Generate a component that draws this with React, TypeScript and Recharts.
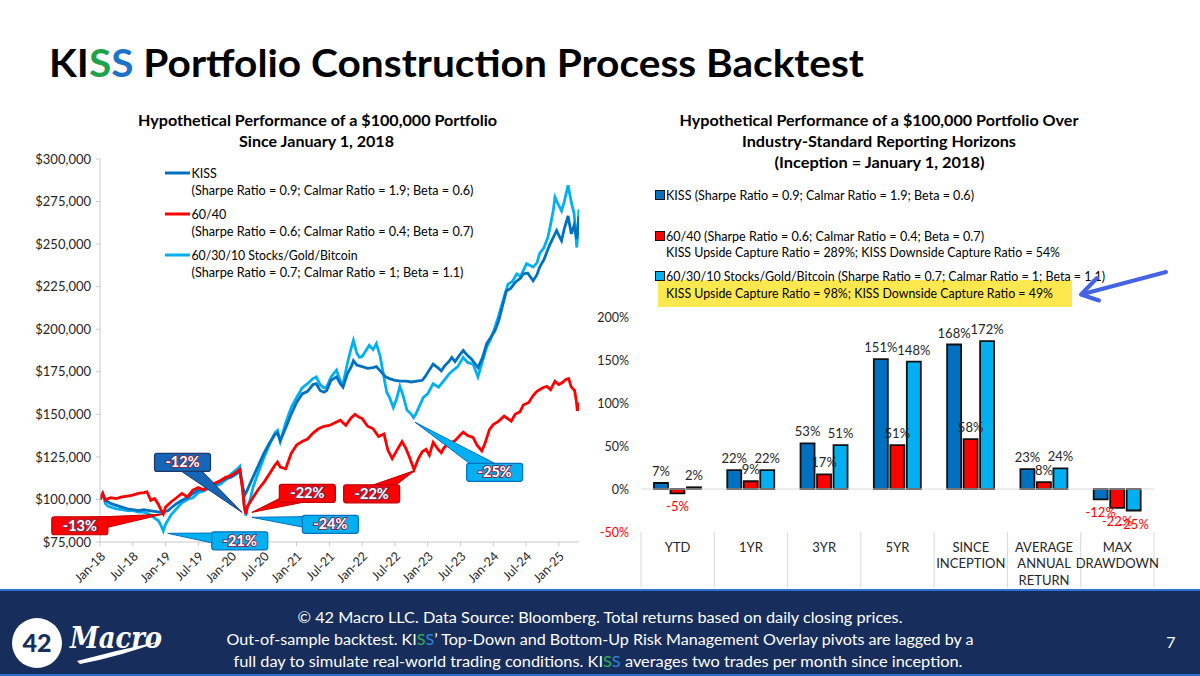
import React from "react";
import {
  LineChart,
  Line,
  XAxis,
  YAxis,
  ReferenceDot,
  ReferenceLine,
  BarChart,
  Bar,
  LabelList,
} from "recharts";

const FONT = "Lato, 'Open Sans', 'DejaVu Sans', sans-serif";
const KISS_BLUE = "#0070c0";
const RED = "#ff0000";
const LIGHT_BLUE = "#00b0f0";
const AXIS_GRAY = "#c8c8c8";
const TEXT = "#262626";

// ---- left chart: portfolio value in $ thousands, x = months since Jan 1, 2018
const dateTicks = [0, 6, 12, 18, 24, 30, 36, 42, 48, 54, 60, 66, 72, 78, 84];
const dateTickLabels = [
  "Jan-18", "Jul-18", "Jan-19", "Jul-19", "Jan-20", "Jul-20", "Jan-21", "Jul-21",
  "Jan-22", "Jul-22", "Jan-23", "Jul-23", "Jan-24", "Jul-24", "Jan-25",
];
const valueTicks = [75, 100, 125, 150, 175, 200, 225, 250, 275, 300];

const kissPoints: [number, number][] = [
  [0, 100], [0.5, 103], [1, 99.5], [1.5, 98.5], [2, 97.5], [3, 96.5], [4, 95.5], [5, 94.5],
  [6, 94], [7, 93.5], [8, 94], [9, 93.5], [10, 93], [11, 92.5], [12, 93], [12.5, 93.5],
  [13, 95], [14, 97.5], [15, 99.5], [16, 101], [17, 103.5], [18, 105.5], [19, 106], [20, 107.5],
  [21, 109], [22, 110.5], [23, 112], [24, 113], [25, 115], [25.6, 116.5], [26.1, 108], [26.5, 102.5],
  [26.9, 105], [27.3, 108], [28, 113], [29, 120], [30, 127], [31, 133], [32, 138], [32.5, 139],
  [33, 134.5], [34, 142], [35, 150], [36, 157], [37, 162], [38, 163.5], [39, 167.5], [39.6, 168],
  [40.3, 164], [41, 163], [41.5, 164], [42.3, 170], [43.3, 172], [44, 168], [44.5, 166], [45.3, 174],
  [46, 178], [46.4, 181.5], [47, 179], [48, 178], [49, 177], [50, 177.5], [50.6, 178], [51.3, 175.5],
  [52.3, 172], [53, 171], [54, 170], [55, 169.5], [56, 169.5], [57, 169], [58, 169.5], [59, 170],
  [59.5, 172], [60.3, 176], [61, 179.5], [62, 177], [62.5, 175.5], [63, 178], [64, 181.5], [64.4, 183.5],
  [65, 181], [66, 185.5], [66.5, 187.5], [67.3, 184.5], [68, 182.5], [69.2, 177.5], [70, 183], [70.8, 191.5],
  [71.5, 195], [72.3, 199], [73, 205], [73.8, 215], [74.4, 222.5], [75.2, 224], [76, 227.5], [77, 230],
  [77.5, 232.5], [78.3, 233], [79.3, 228.5], [80, 232], [80.5, 236.5], [81.3, 241], [82, 247], [82.4, 250],
  [83, 254], [83.6, 258], [84.1, 254.5], [84.5, 252], [85, 259], [85.7, 266.5], [86.3, 256], [86.8, 261],
  [87.3, 253], [87.7, 266.5],
];

const sixtyFortyPoints: [number, number][] = [
  [0, 100], [0.5, 103.5], [1, 99.5], [1.5, 100.5], [2, 101], [3, 100.5], [4, 101.5], [5, 102],
  [6, 102.5], [7, 103.5], [8, 104], [8.6, 104.5], [9.3, 99.5], [10, 100.5], [10.7, 97], [11.3, 93],
  [11.6, 91.5], [12, 95.5], [13, 98.5], [14, 101], [15, 103.5], [16, 101.5], [17, 105.5], [18, 107],
  [19, 105.5], [20, 108], [21, 109.5], [22, 111], [23, 113], [24, 114], [25, 116], [25.6, 117.5],
  [26.1, 106], [26.4, 96], [26.7, 91.5], [27, 96], [27.5, 98.5], [28, 101], [29, 106], [30, 110],
  [31, 115], [32, 120], [32.5, 122], [33, 119], [34, 118], [35, 127], [36, 132], [37, 134],
  [38, 135.5], [39, 139], [40, 141.5], [41, 143], [42, 143.5], [43, 145], [44, 146.5], [45, 143.5],
  [46, 148], [46.7, 150], [47.3, 148.5], [48, 147.5], [49, 143], [50, 141.5], [51, 137], [52, 138.5],
  [52.7, 129], [53.5, 124], [54.3, 128.5], [55.3, 134], [56, 130], [56.7, 124.5], [57.5, 117.5], [58.3, 124],
  [59, 128], [59.7, 129.5], [60.3, 126], [61, 133.5], [62, 129], [62.5, 127.5], [63, 130.5], [64, 133],
  [65, 134.5], [66, 138], [66.5, 139.5], [67.3, 137.5], [68.3, 136.5], [69, 132], [69.9, 128.5], [70.5, 133],
  [71.3, 141], [72, 144], [73, 146], [74, 149], [75.3, 146], [76, 150], [76.9, 151.5], [77.5, 155.5],
  [78.5, 157], [79.3, 161], [80, 163.5], [81, 165.5], [81.8, 166.5], [82.5, 164.5], [83.3, 169.5], [84, 167.5],
  [84.6, 168.5], [85.3, 170.5], [85.8, 171], [86.3, 166], [86.9, 164], [87.2, 158], [87.4, 152], [87.7, 157],
];

const mixPoints: [number, number][] = [
  [0, 100], [0.5, 103.5], [1, 97.5], [1.5, 96], [2, 95.5], [3, 94.5], [4, 94], [5, 93.5],
  [6, 93.5], [7, 92.5], [8, 92.5], [9, 91.5], [10, 89], [10.7, 87.5], [11.2, 84.5], [11.6, 81.5],
  [12, 85.5], [12.5, 88], [13, 91], [14, 94.5], [15, 98], [16, 100], [17, 101], [18, 104],
  [19, 105], [20, 106.5], [21, 108], [22, 109], [23, 111.5], [24, 115], [25, 117.5], [25.6, 119.5],
  [26.1, 107], [26.4, 97], [26.7, 90.5], [27, 95], [27.5, 100], [28, 107], [29, 116], [30, 124.5],
  [31, 132], [32, 139], [32.5, 140.5], [33, 134], [34, 145], [35, 154], [36, 160], [37, 165.5],
  [38, 168], [39, 171], [39.6, 172], [40.3, 167.5], [41, 165.5], [41.5, 166], [42.3, 172], [43.3, 176],
  [44, 169.5], [44.5, 168], [45.3, 180], [46, 189], [46.4, 193.5], [47, 186], [47.5, 183.5], [48, 184],
  [48.6, 187], [49.3, 190.5], [50, 188], [50.6, 191.5], [51.3, 184], [52, 171.5], [52.5, 163], [53, 160],
  [53.7, 154], [54.3, 159], [54.9, 166.5], [55.5, 161], [56.2, 152.5], [57, 150], [57.4, 148], [57.8, 150],
  [58.5, 155], [59.2, 160], [60, 162], [61, 168], [62, 166], [63, 170], [64, 174], [64.7, 176],
  [65.5, 178], [66.5, 183.5], [67.3, 180.5], [68.3, 179.5], [69.2, 172], [70, 181], [70.8, 189.5], [71.5, 194],
  [72.3, 201], [73, 208], [73.8, 217], [74.7, 226.5], [75.5, 228], [76.3, 232.5], [77, 231], [78.1, 238.5],
  [79.3, 236.5], [80, 239], [80.5, 244.5], [81.3, 248], [82, 254], [82.4, 260], [83, 270], [83.3, 277.5],
  [83.8, 274], [84.5, 269.5], [85, 275], [85.7, 284.5], [86.3, 274.5], [86.8, 268], [87.3, 248], [87.7, 270.5],
];

// max drawdown call-outs: where each arrow points (month, $k)
const drawdownLabels = [
  { label: "-13%", series: "6040", m: 11.5, v: 91.3 },
  { label: "-21%", series: "mix", m: 12.4, v: 80.1 },
  { label: "-12%", series: "kiss", m: 26, v: 92.4 },
  { label: "-22%", series: "6040", m: 27.8, v: 92.4 },
  { label: "-24%", series: "mix", m: 27.8, v: 89.5 },
  { label: "-22%", series: "6040", m: 57.7, v: 117.1 },
  { label: "-25%", series: "mix", m: 57.7, v: 145.3 },
];
// box offset from the arrow tip, px
const calloutOffsets: [number, number][] = [
  [-83, 11.5], [72, 7.5], [-59.5, -50], [55.5, -19], [78.5, 7], [-43.5, 23.5], [79.5, 50],
];
const calloutStyle: Record<string, { fill: string; edge: string }> = {
  kiss: { fill: "#1565b8", edge: "#1f3864" },
  "6040": { fill: RED, edge: "#c00000" },
  mix: { fill: LIGHT_BLUE, edge: "#0070c0" },
};

// ---- right chart: returns over reporting horizons (%)
const horizons = ["YTD", "1YR", "3YR", "5YR", "SINCE INCEPTION", "AVERAGE ANNUAL RETURN", "MAX DRAWDOWN"];
const kissReturns = [7, 22, 53, 151, 168, 23, -12];
const sixtyFortyReturns = [-5, 9, 17, 51, 58, 8, -22];
const mixReturns = [2, 22, 51, 148, 172, 24, -25];
const pctTicks = [-50, 0, 50, 100, 150, 200];

const horizonRows = horizons.map((h, i) => ({
  horizon: h,
  kiss: kissReturns[i],
  sixtyForty: sixtyFortyReturns[i],
  mix: mixReturns[i],
}));

const toRows = (pts: [number, number][]) => pts.map(([m, v]) => ({ m, v }));

const BAR_W = 590;
const BAR_PLOT_W = BAR_W - 51 - 26;
const HALF_BAND = BAR_PLOT_W / horizons.length / 2;

const DateTick = (props: any) => {
  const { x, y, payload } = props;
  const i = dateTicks.indexOf(payload.value);
  return (
    <text
      transform={`translate(${x + 3},${y + 6}) rotate(-45)`}
      textAnchor="end"
      dy="0.35em"
      fontSize={12.5}
      fill={TEXT}
      fontFamily={FONT}
    >
      {dateTickLabels[i]}
    </text>
  );
};

const PctTick = (props: any) => {
  const { x, y, payload } = props;
  return (
    <text x={x} y={y} dy={4.5} textAnchor="end" fontSize={12.5} fontFamily={FONT}
      fill={payload.value < 0 ? RED : TEXT}>
      {payload.value}%
    </text>
  );
};

const HorizonTick = (props: any) => {
  const { x, y, payload, index } = props;
  const words = String(payload.value).split(" ");
  return (
    <g>
      <line x1={x - HALF_BAND} x2={x - HALF_BAND} y1={y} y2={y + 56} stroke="#d9d9d9" />
      {index === horizons.length - 1 && (
        <line x1={x + HALF_BAND} x2={x + HALF_BAND} y1={y} y2={y + 56} stroke="#d9d9d9" />
      )}
      <text x={x} y={y + 20} textAnchor="middle" fontSize={13} fill={TEXT} fontFamily={FONT}>
        {words.map((w, i) => (
          <tspan key={i} x={x} dy={i === 0 ? 0 : 16.3}>{w}</tspan>
        ))}
      </text>
    </g>
  );
};

const barLabel = (props: any) => {
  const { x, y, width, height, value } = props;
  const top = Math.min(y, y + height);
  const bottom = Math.max(y, y + height);
  const neg = value < 0;
  return (
    <text x={x + width / 2} y={neg ? bottom + 18 : top - 7} textAnchor="middle" fontSize={13}
      fontFamily={FONT} fill={neg ? RED : TEXT}>
      {value}%
    </text>
  );
};

const Callout = ({ cx, cy, label, series, off }: any) => {
  const { fill, edge } = calloutStyle[series];
  const bx = cx + off[0];
  const by = cy + off[1];
  const w = 56;
  const h = 18;
  const a = Math.atan2(cy - by, cx - bx);
  const px = -Math.sin(a) * 8;
  const py = Math.cos(a) * 8;
  return (
    <g>
      <polygon points={`${bx + px},${by + py} ${cx},${cy} ${bx - px},${by - py}`} fill={fill} stroke={edge} strokeWidth={1} />
      <rect x={bx - w / 2} y={by - h / 2} width={w} height={h} rx={2.5} fill={fill} stroke={edge} strokeWidth={1.2} />
      <text x={bx} y={by + 5} textAnchor="middle" fill="#fff" fontWeight={700} fontSize={14.5}
        fontFamily={FONT} stroke="#7b2f55" strokeWidth={2} paintOrder="stroke">
        {label}
      </text>
    </g>
  );
};

const T = ({ x, y, size = 12.5, weight = 400, anchor = "start", len, fill = "#000", children }: any) => (
  <text x={x} y={y} fontSize={size} fontWeight={weight} textAnchor={anchor} fill={fill}
    fontFamily={FONT} textLength={len} lengthAdjust={len ? "spacingAndGlyphs" : undefined}>
    {children}
  </text>
);

export default function App() {
  return (
    <div style={{ position: "absolute", left: 0, top: 0, width: 1200, height: 676, background: "#fff", overflow: "hidden", fontFamily: FONT }}>
      <div style={{ position: "absolute", left: 0, top: 150 }}>
        <LineChart width={600} height={440} margin={{ top: 9, right: 21, bottom: 0, left: 0 }}>
          <XAxis type="number" dataKey="m" domain={[0, 87.7]} ticks={dateTicks} interval={0}
            tick={<DateTick />} tickSize={4} tickMargin={2} height={48} stroke={AXIS_GRAY} allowDataOverflow />
          <YAxis type="number" domain={[75, 300]} ticks={valueTicks} interval={0}
            tickFormatter={(v: number) => `$${v},000`} width={100} tickSize={4} tickMargin={5}
            stroke={AXIS_GRAY} tick={{ fill: TEXT, fontSize: 13, fontFamily: FONT }} />
          <Line data={toRows(mixPoints)} dataKey="v" stroke={LIGHT_BLUE} strokeWidth={2.8} dot={false} isAnimationActive={false} />
          <Line data={toRows(kissPoints)} dataKey="v" stroke={KISS_BLUE} strokeWidth={2.8} dot={false} isAnimationActive={false} />
          <Line data={toRows(sixtyFortyPoints)} dataKey="v" stroke={RED} strokeWidth={2.8} dot={false} isAnimationActive={false} />
          {drawdownLabels.map((d, i) => (
            <ReferenceDot key={i} x={d.m} y={d.v} r={0} ifOverflow="visible"
              shape={(p: any) => <Callout cx={p.cx} cy={p.cy} label={d.label} series={d.series} off={calloutOffsets[i]} />} />
          ))}
        </LineChart>
      </div>

      <div style={{ position: "absolute", left: 590, top: 300 }}>
        <BarChart width={BAR_W} height={290} data={horizonRows} margin={{ top: 17, right: 26, bottom: 0, left: 0 }}
          barCategoryGap="17.7%" barGap={2.5}>
          <XAxis dataKey="horizon" tick={<HorizonTick />} tickLine={false} axisLine={false} tickSize={0} tickMargin={0} height={58} interval={0} />
          <YAxis domain={[-50, 200]} ticks={pctTicks} interval={0} tick={<PctTick />} width={51}
            tickSize={0} tickMargin={12} axisLine={false} tickLine={false} />
          <ReferenceLine y={0} stroke="#d9d9d9" strokeWidth={1.2} />
          <Bar dataKey="kiss" fill={KISS_BLUE} stroke="#111" strokeWidth={1.8} isAnimationActive={false}>
            <LabelList dataKey="kiss" content={barLabel} />
          </Bar>
          <Bar dataKey="sixtyForty" fill={RED} stroke="#111" strokeWidth={1.8} isAnimationActive={false}>
            <LabelList dataKey="sixtyForty" content={barLabel} />
          </Bar>
          <Bar dataKey="mix" fill={LIGHT_BLUE} stroke="#111" strokeWidth={1.8} isAnimationActive={false}>
            <LabelList dataKey="mix" content={barLabel} />
          </Bar>
        </BarChart>
      </div>

      <svg width={1200} height={676} style={{ position: "absolute", left: 0, top: 0, pointerEvents: "none" }}>
        {/* slide title */}
        <text x={49} y={77} fontSize={38} fontWeight={700} fontFamily={FONT} fill="#000" textLength={815} lengthAdjust="spacingAndGlyphs">
          KI<tspan fill="#1fa34a">S</tspan><tspan fill="#1a73c9">S</tspan> Portfolio Construction Process Backtest
        </text>

        {/* left chart title + legend */}
        <T x={317.5} y={126} size={15} weight={700} anchor="middle" len={359}>Hypothetical Performance of a $100,000 Portfolio</T>
        <T x={316.5} y={147} size={15} weight={700} anchor="middle" len={155}>Since January 1, 2018</T>
        <line x1={165} x2={190} y1={173} y2={173} stroke={KISS_BLUE} strokeWidth={3} />
        <T x={191.5} y={177.5}>KISS</T>
        <T x={191.5} y={195} len={282}>(Sharpe Ratio = 0.9; Calmar Ratio = 1.9; Beta = 0.6)</T>
        <line x1={165} x2={190} y1={214} y2={214} stroke={RED} strokeWidth={3} />
        <T x={191.5} y={218.5}>60/40</T>
        <T x={191.5} y={236} len={282}>(Sharpe Ratio = 0.6; Calmar Ratio = 0.4; Beta = 0.7)</T>
        <line x1={165} x2={190} y1={255} y2={255} stroke={LIGHT_BLUE} strokeWidth={3} />
        <T x={191.5} y={259.5} len={166}>60/30/10 Stocks/Gold/Bitcoin</T>
        <T x={191.5} y={277} len={272}>(Sharpe Ratio = 0.7; Calmar Ratio = 1; Beta = 1.1)</T>

        {/* right chart title + legend */}
        <T x={879} y={126} size={15} weight={700} anchor="middle" len={399}>Hypothetical Performance of a $100,000 Portfolio Over</T>
        <T x={879} y={147} size={15} weight={700} anchor="middle" len={274}>Industry-Standard Reporting Horizons</T>
        <T x={879.5} y={168} size={15} weight={700} anchor="middle" len={210}>(Inception = January 1, 2018)</T>

        <rect x={655.5} y={190.5} width={9} height={9} fill={KISS_BLUE} stroke="#111" />
        <T x={666} y={199.5} len={308}>KISS (Sharpe Ratio = 0.9; Calmar Ratio = 1.9; Beta = 0.6)</T>
        <rect x={655.5} y={231.5} width={9} height={9} fill={RED} stroke="#111" />
        <T x={666} y={240.5} len={318}>60/40 (Sharpe Ratio = 0.6; Calmar Ratio = 0.4; Beta = 0.7)</T>
        <T x={666} y={257} len={394}>KISS Upside Capture Ratio = 289%; KISS Downside Capture Ratio = 54%</T>
        <rect x={658} y={280} width={414} height={27} fill="#fde94f" />
        <rect x={655.5} y={271.5} width={9} height={9} fill={LIGHT_BLUE} stroke="#111" />
        <T x={666} y={280.5} len={439}>60/30/10 Stocks/Gold/Bitcoin (Sharpe Ratio = 0.7; Calmar Ratio = 1; Beta = 1.1)</T>
        <T x={666} y={297.5} len={387}>KISS Upside Capture Ratio = 98%; KISS Downside Capture Ratio = 49%</T>

        {/* pointer arrow */}
        <g stroke="#4463e4" strokeWidth={4} strokeLinecap="round" strokeLinejoin="round" fill="none">
          <line x1={1166} y1={272} x2={1083} y2={294} />
          <polyline points="1097,278 1081,294.5 1099,300.5" />
        </g>

        {/* footer */}
        <rect x={0} y={590} width={1200} height={86} fill="#172e5c" />
        <rect x={0} y={589} width={1200} height={2} fill="#2f6fd0" />
        <rect x={0} y={674} width={1200} height={2} fill="#2f6fd0" />
        <circle cx={37} cy={643} r={25} fill="#fff" />
        <text x={37} y={652} textAnchor="middle" fontSize={25} fontWeight={900} fill="#172e5c" fontFamily={FONT}>42</text>
        <text x={70} y={648} fontSize={29} fontStyle="italic" fontWeight={700} fill="#fff" fontFamily="'DejaVu Serif', serif" textLength={92} lengthAdjust="spacingAndGlyphs">Macro</text>
        <path d="M77 661 Q118 650 161 641 Q122 656 80 664 Z" fill="#fff" />
        <T x={600} y={623} size={15.5} anchor="middle" fill="#fff" len={605}>© 42 Macro LLC. Data Source: Bloomberg. Total returns based on daily closing prices.</T>
        <text x={600} y={645} fontSize={15.5} textAnchor="middle" fill="#fff" fontFamily={FONT} textLength={747} lengthAdjust="spacingAndGlyphs">
          Out-of-sample backtest. KI<tspan fill="#2fae52">S</tspan><tspan fill="#2b86d8">S</tspan>’ Top-Down and Bottom-Up Risk Management Overlay pivots are lagged by a
        </text>
        <text x={598} y={667} fontSize={15.5} textAnchor="middle" fill="#fff" fontFamily={FONT} textLength={729} lengthAdjust="spacingAndGlyphs">
          full day to simulate real-world trading conditions. KI<tspan fill="#2fae52">S</tspan><tspan fill="#2b86d8">S</tspan> averages two trades per month since inception.
        </text>
        <T x={1171} y={648} size={16} anchor="middle" fill="#fff">7</T>
      </svg>
    </div>
  );
}
